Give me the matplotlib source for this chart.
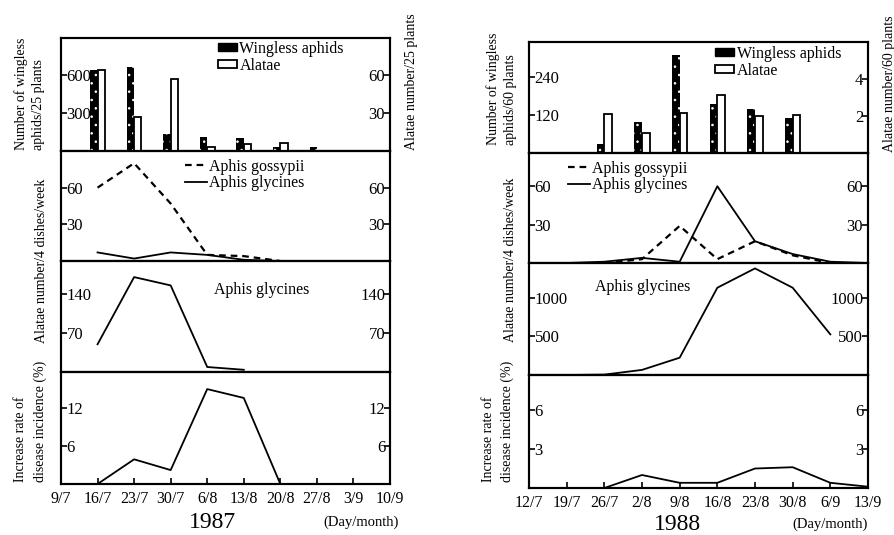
import numpy as np
import matplotlib.pyplot as plt
from matplotlib.patches import Patch
from matplotlib.lines import Line2D

plt.rcParams['font.family'] = ['Liberation Serif', 'DejaVu Serif']
plt.rcParams['hatch.linewidth'] = 0.6

# ---- 1987 data ----
dates_87 = ['9/7', '16/7', '23/7', '30/7', '6/8', '13/8', '20/8', '27/8', '3/9', '10/9']
bar_dates_87 = ['16/7', '23/7', '30/7', '6/8', '13/8', '20/8', '27/8']
wingless_87 = [640, 665, 132, 113, 105, 32, 32]
alatae_bar_87 = [64, 27, 57, 3.4, 5.5, 6.3, 0]
trap_dates_87 = ['16/7', '23/7', '30/7', '6/8', '13/8', '20/8']
gossypii_87 = [60, 80, 47, 5, 4, 0]
glycines_trap_87 = [7, 2, 7, 5, 1, 0]
glycines_dates_87 = ['16/7', '23/7', '30/7', '6/8', '13/8']
glycines_87 = [50, 171, 156, 9, 4]
disease_dates_87 = ['16/7', '23/7', '30/7', '6/8', '13/8', '20/8']
disease_87 = [0, 3.9, 2.2, 15, 13.6, 0]

# ---- 1988 data ----
dates_88 = ['12/7', '19/7', '26/7', '2/8', '9/8', '16/8', '23/8', '30/8', '6/9', '13/9']
bar_dates_88 = ['26/7', '2/8', '9/8', '16/8', '23/8', '30/8']
wingless_88 = [27, 99, 310, 154, 138, 110]
alatae_bar_88 = [2.1, 1.1, 2.15, 3.13, 2.0, 2.05]
gossypii_dates_88 = ['26/7', '2/8', '9/8', '16/8', '23/8', '30/8', '6/9']
gossypii_88 = [0, 3, 29, 3, 17, 6, 0]
glycines_trap_88 = [0, 0, 1, 4, 1, 60, 17, 7, 1, 0]
glycines_dates_88 = ['12/7', '19/7', '26/7', '2/8', '9/8', '16/8', '23/8', '30/8', '6/9']
glycines_88 = [0, 0, 5, 66, 224, 1130, 1380, 1130, 526]
disease_88 = [0, 0, 0, 1.0, 0.4, 0.4, 1.5, 1.6, 0.4, 0.1]

W, H = 894, 535
fig = plt.figure(figsize=(W / 100, H / 100), dpi=100)


def pos(dates, sub):
    return np.array([dates.index(d) for d in sub], dtype=float)


def make_axes(x0, x1, tops):
    axs = []
    for i in range(4):
        ax = fig.add_axes([x0 / W, 1 - tops[i + 1] / H, (x1 - x0) / W, (tops[i + 1] - tops[i]) / H])
        for s in ax.spines.values():
            s.set_linewidth(1.5)
        ax.set_xlim(0, 9)
        axs.append(ax)
    return axs


def inside_y(ax, ylim, ticks, side, pad):
    ax.set_ylim(*ylim)
    ax.set_yticks(ticks)
    ax.set_yticklabels([str(t) for t in ticks])
    ax.tick_params(axis='y', direction='in', length=4, width=1.2, pad=pad, labelsize=12)
    for lab in ax.get_yticklabels():
        lab.set_ha('left' if side == 'left' else 'right')


def panel_yaxes(ax, ylim, ticks, ylim_r=None, ticks_r=None, lpad=-4, rpad=-3.5):
    inside_y(ax, ylim, ticks, 'left', lpad)
    axr = ax.twinx()
    for s in axr.spines.values():
        s.set_linewidth(1.5)
    inside_y(axr, ylim_r if ylim_r else ylim, ticks_r if ticks_r else ticks, 'right', rpad)
    axr.set_xlim(0, 9)
    return axr


def draw_year(x0, x1, tops, dates, bar_dates, wingless, alatae, wl_lim, wl_ticks, al_lim, al_ticks,
              g_dates, gossypii, t_dates, glyc_trap, t_lim, t_ticks, legend_pos,
              gl_dates, glycines, gl_lim, gl_ticks, gl_text, dis_dates, disease, d_lim, d_ticks):
    a1, a2, a3, a4 = make_axes(x0, x1, tops)
    for ax in (a1, a2, a3):
        ax.set_xticks([])

    # panel 1: bars
    xb = pos(dates, bar_dates)
    a1.bar(xb - 0.1, wingless, 0.2, color='black', zorder=2)
    a1.bar(xb - 0.1, wingless, 0.2, fill=False, hatch='..', edgecolor='white', linewidth=0, zorder=3)
    a1r = panel_yaxes(a1, wl_lim, wl_ticks, al_lim, al_ticks)
    a1r.bar(xb + 0.1, alatae, 0.2, facecolor='white', edgecolor='black', linewidth=1.3)
    a1r.set_xticks([])
    h1 = [Patch(facecolor='black', edgecolor='black'),
          Patch(facecolor='white', edgecolor='black', linewidth=1.3)]
    a1r.legend(h1, ['Wingless aphids', 'Alatae'], loc='upper left', bbox_to_anchor=legend_pos[0],
               frameon=False, fontsize=11.5, handlelength=1.2, handleheight=0.45,
               handletextpad=0.15, labelspacing=0.05, borderpad=0, borderaxespad=0)

    # panel 2: trap catches
    a2.plot(pos(dates, g_dates), gossypii, color='black', lw=1.6, ls=(0, (3, 2.2)))
    a2.plot(pos(dates, t_dates), glyc_trap, color='black', lw=1.3)
    a2r = panel_yaxes(a2, t_lim, t_ticks)
    a2r.set_xticks([])
    h2 = [Line2D([], [], color='black', lw=1.6, ls=(0, (3, 2.2))),
          Line2D([], [], color='black', lw=1.3)]
    a2.legend(h2, ['Aphis gossypii', 'Aphis glycines'], loc='upper left', bbox_to_anchor=legend_pos[1],
              frameon=False, fontsize=11.5, handlelength=1.4, handletextpad=0.1,
              labelspacing=0.05, borderpad=0, borderaxespad=0)

    # panel 3: glycines alatae
    a3.plot(pos(dates, gl_dates), glycines, color='black', lw=1.3)
    a3r = panel_yaxes(a3, gl_lim, gl_ticks)
    a3r.set_xticks([])
    a3.text(gl_text[0], gl_text[1], 'Aphis glycines', transform=a3.transAxes,
            fontsize=11.5, ha='left', va='center')

    # panel 4: disease
    a4.plot(pos(dates, dis_dates), disease, color='black', lw=1.3)
    a4r = panel_yaxes(a4, d_lim, d_ticks)
    a4r.set_xticks([])
    a4.set_xticks(range(len(dates)))
    a4.set_xticklabels(dates)
    a4.tick_params(axis='x', direction='in', length=4, width=1.2, pad=5, labelsize=11.5)


draw_year(61, 390, [38, 151, 261, 372, 484], dates_87, bar_dates_87, wingless_87, alatae_bar_87,
          (0, 890), [300, 600], (0, 89), [30, 60],
          trap_dates_87, gossypii_87, trap_dates_87, glycines_trap_87, (0, 90), [30, 60],
          [(0.477, 0.975), (0.377, 0.93)],
          glycines_dates_87, glycines_87, (0, 200), [70, 140], (0.465, 0.74),
          disease_dates_87, disease_87, (0, 17.7), [6, 12])

draw_year(529, 868, [42, 153, 263, 375, 488], dates_88, bar_dates_88, wingless_88, alatae_bar_88,
          (0, 350), [120, 240], (0, 6.0), [2, 4],
          gossypii_dates_88, gossypii_88, dates_88, glycines_trap_88, (0, 86), [30, 60],
          [(0.549, 0.965), (0.115, 0.93)],
          glycines_dates_88, glycines_88, (0, 1450), [500, 1000], (0.195, 0.786),
          dates_88, disease_88, (0, 8.7), [3, 6])


def ftext(x, y, s, **kw):
    fig.text(x / W, 1 - y / H, s, **kw)


lab = dict(rotation=90, ha='center', va='center', multialignment='left', fontsize=10)
ftext(29.5, 93.5, 'Number of wingless\naphids/25 plants', linespacing=1.45, **lab)
ftext(42, 261, 'Alatae number/4 dishes/week', **lab)
ftext(30.5, 421, 'Increase rate of\ndisease incidence (%)', linespacing=1.6, **lab)
ftext(412, 82, 'Alatae number/25 plants', **lab)
ftext(212, 522, '1987', fontsize=17, ha='center', va='center')
ftext(361, 522, '(Day/month)', fontsize=10.5, ha='center', va='center')

ftext(501.5, 88.5, 'Number of wingless\naphids/60 plants', linespacing=1.35, **lab)
ftext(511, 260, 'Alatae number/4 dishes/week', **lab)
ftext(498, 421, 'Increase rate of\ndisease incidence (%)', linespacing=1.55, **lab)
ftext(889, 84, 'Alatae number/60 plants', **lab)
ftext(677, 524, '1988', fontsize=17, ha='center', va='center')
ftext(830, 524, '(Day/month)', fontsize=10.5, ha='center', va='center')

fig.savefig('out.png', dpi=100)
